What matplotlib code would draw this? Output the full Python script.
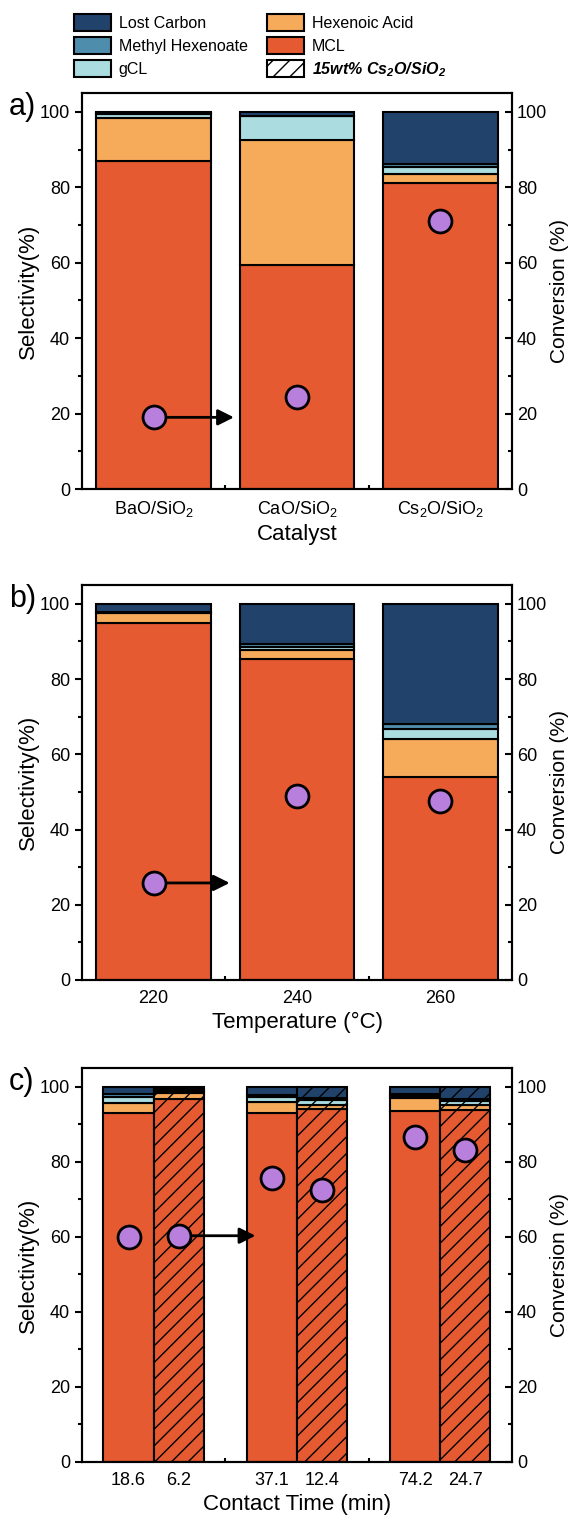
import matplotlib
matplotlib.use("Agg")
import matplotlib.pyplot as plt
from matplotlib.patches import Patch
from matplotlib.ticker import MultipleLocator, FixedLocator

plt.rcParams['font.family'] = ['Liberation Sans', 'DejaVu Sans']
plt.rcParams['mathtext.fontset'] = 'custom'
plt.rcParams['mathtext.rm'] = 'Liberation Sans'
plt.rcParams['mathtext.default'] = 'regular'
plt.rcParams['hatch.linewidth'] = 1.0

# colours for the product fractions
c_lc = '#21436B'
c_mh = '#4F8DAD'
c_gcl = '#AADCE0'
c_hex = '#F5AB5A'
c_mcl = '#E55A30'
c_conv = '#B87FDD'

# panel a) catalyst screen
cats_a = ['BaO/SiO$_2$', 'CaO/SiO$_2$', 'Cs$_2$O/SiO$_2$']
mcl_a = [87.0, 59.5, 81.2]
hex_a = [11.4, 33.0, 2.4]
gcl_a = [1.0, 6.5, 1.8]
mh_a = [0.2, 0.0, 0.8]
lc_a = [0.4, 1.0, 13.8]
conv_a = [19.0, 24.5, 71.0]

# panel b) temperature
temps_b = ['220', '240', '260']
mcl_b = [95.0, 85.3, 54.0]
hex_b = [2.5, 2.5, 10.0]
gcl_b = [0.2, 0.7, 2.8]
mh_b = [0.1, 0.8, 1.2]
lc_b = [2.2, 10.7, 32.0]
conv_b = [25.8, 48.8, 47.6]

# panel c) contact time, plain and 15wt% Cs2O/SiO2 (hatched)
times_c = ['18.6', '6.2', '37.1', '12.4', '74.2', '24.7']
hatched_c = [False, True, False, True, False, True]
mcl_c = [93.0, 96.8, 93.0, 94.0, 93.5, 93.8]
hex_c = [2.8, 1.5, 3.0, 1.2, 3.5, 1.3]
gcl_c = [1.6, 0.6, 1.2, 1.2, 0.6, 1.2]
mh_c = [0.6, 0.4, 0.5, 0.6, 0.5, 0.5]
lc_c = [2.0, 0.7, 2.3, 3.0, 1.9, 3.2]
conv_c = [60.0, 60.3, 75.8, 72.4, 86.5, 83.2]


def stack(ax, x, width, layers, hatch=None):
    bottom = [0.0] * len(x)
    for vals, col in layers:
        ax.bar(x, vals, width, bottom=bottom, color=col, edgecolor='black',
               linewidth=1.5, hatch=hatch, zorder=2)
        bottom = [b + v for b, v in zip(bottom, vals)]


def style_axes(ax, ax2, label, xlabel):
    for a in (ax, ax2):
        a.set_ylim(0, 105)
        a.yaxis.set_major_locator(MultipleLocator(20))
        a.yaxis.set_minor_locator(MultipleLocator(10))
        for s in a.spines.values():
            s.set_linewidth(1.5)
    ax.set_xlim(0.5, 3.5)
    ax.tick_params(axis='y', which='both', direction='out', width=1.5, labelsize=13)
    ax.tick_params(axis='y', which='major', length=5)
    ax.tick_params(axis='y', which='minor', length=3)
    ax.tick_params(axis='x', which='both', direction='in', width=1.5, labelsize=13, pad=7)
    ax.tick_params(axis='x', which='major', length=5)
    ax.tick_params(axis='x', which='minor', length=3)
    ax2.tick_params(axis='y', which='both', direction='in', width=1.5, labelsize=13)
    ax2.tick_params(axis='y', which='major', length=5)
    ax2.tick_params(axis='y', which='minor', length=3)
    ax.set_ylabel('Selectivity(%)', fontsize=16, labelpad=1)
    ax2.set_ylabel('Conversion (%)', fontsize=15, labelpad=2)
    ax.set_xlabel(xlabel, fontsize=16, labelpad=4)
    ax.text(-0.17, 0.965, label, transform=ax.transAxes, fontsize=22, va='center', ha='left')


def conv_points(ax2, x, conv, arrow_from, arrow_to):
    ax2.annotate('', xy=(arrow_to, conv[arrow_from]), xytext=(x[arrow_from], conv[arrow_from]),
                 arrowprops=dict(arrowstyle='-|>', color='black', lw=2, mutation_scale=24,
                                 shrinkA=0, shrinkB=0), zorder=3)
    ax2.plot(x, conv, 'o', ms=16.5, mfc=c_conv, mec='black', mew=2, zorder=4)


fig = plt.figure(figsize=(5.71, 15.21), dpi=100)
left, width = 82 / 571, 430 / 571
pos = [(93, 489), (585, 980), (1068, 1462)]
axes = []
for top, bot in pos:
    ax = fig.add_axes([left, 1 - bot / 1521, width, (bot - top) / 1521])
    axes.append(ax)

x3 = [1, 2, 3]

# a)
ax = axes[0]
stack(ax, x3, 0.8, [(mcl_a, c_mcl), (hex_a, c_hex), (gcl_a, c_gcl), (mh_a, c_mh), (lc_a, c_lc)])
ax2 = ax.twinx()
style_axes(ax, ax2, 'a)', 'Catalyst')
ax.set_xticks(x3)
ax.set_xticklabels(cats_a)
ax.xaxis.set_minor_locator(FixedLocator([1.5, 2.5]))
conv_points(ax2, x3, conv_a, 0, 1.56)

# b)
ax = axes[1]
stack(ax, x3, 0.8, [(mcl_b, c_mcl), (hex_b, c_hex), (gcl_b, c_gcl), (mh_b, c_mh), (lc_b, c_lc)])
ax2 = ax.twinx()
style_axes(ax, ax2, 'b)', 'Temperature (\u00b0C)')
ax.set_xticks(x3)
ax.set_xticklabels(temps_b)
ax.xaxis.set_minor_locator(FixedLocator([1.5, 2.5]))
conv_points(ax2, x3, conv_b, 0, 1.53)

# c)
ax = axes[2]
xc = []
for g in x3:
    xc += [g - 0.175, g + 0.175]
for hatch_on in (False, True):
    idx = [i for i, h in enumerate(hatched_c) if h == hatch_on]
    pick = lambda v: [v[i] for i in idx]
    stack(ax, pick(xc), 0.35,
          [(pick(mcl_c), c_mcl), (pick(hex_c), c_hex), (pick(gcl_c), c_gcl),
           (pick(mh_c), c_mh), (pick(lc_c), c_lc)],
          hatch='//' if hatch_on else None)
ax2 = ax.twinx()
style_axes(ax, ax2, 'c)', 'Contact Time (min)')
ax.set_xticks(xc)
ax.set_xticklabels(times_c)
ax.xaxis.set_minor_locator(FixedLocator([1.5, 2.5]))
conv_points(ax2, xc, conv_c, 1, 1.71)

handles = [Patch(facecolor=c_lc, edgecolor='black', lw=1.5, label='Lost Carbon'),
           Patch(facecolor=c_mh, edgecolor='black', lw=1.5, label='Methyl Hexenoate'),
           Patch(facecolor=c_gcl, edgecolor='black', lw=1.5, label='gCL'),
           Patch(facecolor=c_hex, edgecolor='black', lw=1.5, label='Hexenoic Acid'),
           Patch(facecolor=c_mcl, edgecolor='black', lw=1.5, label='MCL'),
           Patch(facecolor='white', edgecolor='black', lw=1.5, hatch='//',
                 label='15wt% Cs$_2$O/SiO$_2$')]
leg = fig.legend(handles=handles, ncol=2, loc='upper left', bbox_to_anchor=(74 / 571, 1 - 14 / 1521),
                 frameon=False, fontsize=11.5, handlelength=2.3, handleheight=1.25,
                 labelspacing=0.38, columnspacing=1.2, handletextpad=0.5, borderaxespad=0,
                 borderpad=0)
leg.get_texts()[5].set_fontweight('bold')
leg.get_texts()[5].set_fontstyle('italic')

fig.savefig('out.png', dpi=100)
